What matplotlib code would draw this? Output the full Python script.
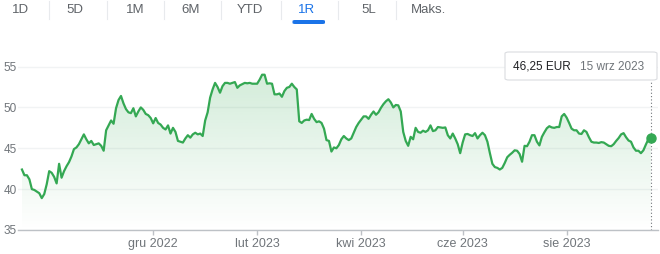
import numpy as np
import matplotlib
matplotlib.use("Agg")
import matplotlib.pyplot as plt
from matplotlib.lines import Line2D
from matplotlib.patches import FancyBboxPatch
import matplotlib.transforms as mtransforms

plt.rcParams['font.family'] = ['Liberation Sans', 'DejaVu Sans']

# closing prices, one per trading day (EUR), 15 wrz 2022 -> 15 wrz 2023
price = [42.4, 41.7, 41.7, 41.2, 40.0, 39.9, 39.7, 39.5, 38.9, 39.4,
         40.6, 42.2, 42.0, 41.5, 40.7, 43.1, 41.4, 42.2, 42.8, 43.3,
         44.0, 44.9, 45.1, 45.5, 46.1, 46.7, 46.1, 45.6, 45.9, 45.4,
         45.5, 45.6, 45.3, 44.7, 47.2, 47.8, 48.4, 48.0, 49.9, 50.9,
         51.4, 50.5, 49.8, 49.4, 49.3, 49.9, 48.9, 49.5, 50.0, 49.7,
         49.2, 49.05, 48.7, 48.05, 48.7, 48.1, 47.9, 47.5, 47.3, 47.8,
         46.8, 47.5, 47.0, 45.9, 45.8, 45.7, 46.2, 46.6, 46.3, 46.7,
         46.9, 46.7, 46.8, 46.5, 48.4, 49.4, 51.2, 52.2, 53.0, 52.5,
         51.8, 52.6, 53.0, 53.0, 52.9, 53.0, 53.1, 52.4, 52.7, 52.85,
         53.0, 52.95, 53.0, 52.9, 52.9, 52.9, 53.4, 54.0, 54.0, 52.9,
         52.95, 52.9, 51.6, 51.6, 51.7, 51.3, 52.0, 52.4, 52.5, 52.9,
         52.5, 52.2, 48.3, 48.1, 48.4, 48.5, 48.45, 49.2, 48.6, 48.2,
         48.3, 48.1, 47.4, 46.0, 45.9, 44.6, 45.1, 45.0, 45.4, 46.1,
         46.5, 46.2, 46.0, 46.2, 46.9, 47.6, 48.1, 48.5, 48.9, 48.9,
         48.6, 49.1, 49.5, 49.1, 49.4, 49.95, 50.4, 50.75, 51.0, 50.6,
         50.0, 50.3, 50.25, 49.5, 47.0, 45.9, 45.3, 46.4, 46.1, 47.5,
         47.0, 46.9, 47.15, 47.0, 47.2, 47.8, 47.1, 47.2, 47.6, 47.55,
         47.5, 47.55, 46.6, 46.2, 46.8, 46.2, 45.5, 44.4, 45.7, 46.7,
         46.75, 46.6, 46.5, 46.85, 46.2, 46.6, 46.9, 46.6, 45.8, 44.4,
         43.1, 42.7, 42.6, 42.4, 42.6, 43.2, 43.9, 44.2, 44.45, 44.75,
         44.7, 44.3, 43.35, 45.3, 45.25, 45.8, 46.6, 46.6, 45.8, 45.35,
         46.4, 46.95, 47.45, 47.7, 47.55, 47.5, 47.6, 47.6, 48.9, 49.2,
         48.75, 48.1, 47.4, 47.2, 47.2, 46.8, 46.75, 47.2, 47.0, 46.35,
         45.8, 45.7, 45.7, 45.65, 45.75, 45.7, 45.5, 45.3, 45.25, 45.5,
         45.9, 46.25, 46.7, 46.85, 46.35, 45.95, 45.8, 45.1, 44.7, 44.7,
         44.4, 44.75, 45.45, 46.1, 46.25]

# first trading day of each labelled month (index into price)
tick_idx = [53, 95, 137, 178, 220]
tick_labels = ['gru 2022', 'lut 2023', 'kwi 2023', 'cze 2023', 'sie 2023']
y_ticks = [35, 40, 45, 50, 55]

ranges = ['1D', '5D', '1M', '6M', 'YTD', '1R', '5L', 'Maks.']
active_range = '1R'
last_value = '46,25 EUR'
last_date = '15 wrz 2023'

green = '#34a853'
grey_txt = '#70757a'

W, H = 660, 254
def fx(px):
    return px / W
def fy(py):
    return 1 - py / H

fig = plt.figure(figsize=(W / 100, H / 100), dpi=100)

# range selector
tab_x = [21, 75, 135, 191, 250, 307, 369, 429]
for lab, cx in zip(ranges, tab_x):
    col = '#1a73e8' if lab == active_range else '#5f6368'
    fig.text(fx(cx), fy(10), lab, ha='center', va='center', fontsize=9.5, color=col)
for sx in [48.5, 106.5, 163.5, 220.5, 280.5, 337.5, 395.5]:
    fig.add_artist(Line2D([fx(sx), fx(sx)], [fy(1), fy(19)], color='#e8eaed', lw=0.8))
fig.add_artist(FancyBboxPatch((fx(292.5), fy(24)), fx(325) - fx(292.5), fy(20) - fy(24),
                              boxstyle='round,pad=0,rounding_size=0.004',
                              transform=fig.transFigure, fc='#1a73e8', ec='none'))

# chart
ax = fig.add_axes([fx(18), fy(230), fx(658) - fx(18), fy(50.2) - fy(230)])
x = np.arange(len(price))

fill = ax.fill_between(x, price, 35, facecolor='none', edgecolor='none')
grad = np.zeros((256, 1, 4))
grad[:, 0, :3] = matplotlib.colors.to_rgb(green)
grad[:, 0, 3] = np.linspace(0.0, 0.24, 256)
im = ax.imshow(grad, extent=[x[0], x[-1], 35, 56], origin='lower', aspect='auto', zorder=1)
im.set_clip_path(fill.get_paths()[0], transform=ax.transData)
ax.set_xlim(-1.6, len(price) - 1 + 2.9)
ax.set_ylim(35, 57)

ax.plot(x, price, color=green, lw=1.6, zorder=3, solid_joinstyle='round')
ax.plot(x[-1], price[-1], 'o', color=green, ms=6.5, zorder=4, clip_on=False)

trans = mtransforms.blended_transform_factory(ax.transData, ax.transAxes)
ax.plot([x[-1], x[-1]], [0, 0.834], transform=trans, color=grey_txt, lw=0.8,
        ls=(0, (1, 2)), zorder=2, clip_on=False)

ax.set_yticks(y_ticks)
ax.set_xticks(tick_idx)
ax.set_xticklabels(tick_labels)
ax.yaxis.grid(True, color='#f1f3f4', lw=1)
ax.set_axisbelow(True)
for s in ['top', 'right', 'left']:
    ax.spines[s].set_visible(False)
ax.spines['bottom'].set_color('#bdc1c6')
ax.spines['bottom'].set_linewidth(1)
ax.tick_params(axis='y', length=0, pad=0.8, labelsize=8.5, labelcolor=grey_txt)
ax.tick_params(axis='x', length=3.5, width=1, color='#bdc1c6', pad=2,
               labelsize=9, labelcolor=grey_txt)

# tooltip
fig.add_artist(FancyBboxPatch((fx(505), fy(80)), fx(657) - fx(505), fy(52) - fy(80),
                              boxstyle='round,pad=0,rounding_size=0.006',
                              transform=fig.transFigure, fc='white', ec='#dadce0', lw=0.8))
fig.text(fx(513), fy(66.5), last_value, va='center', fontsize=8.5, color='#202124')
fig.text(fx(580), fy(66.5), last_date, va='center', fontsize=8.5, color=grey_txt)

fig.savefig('out.png', dpi=100)
